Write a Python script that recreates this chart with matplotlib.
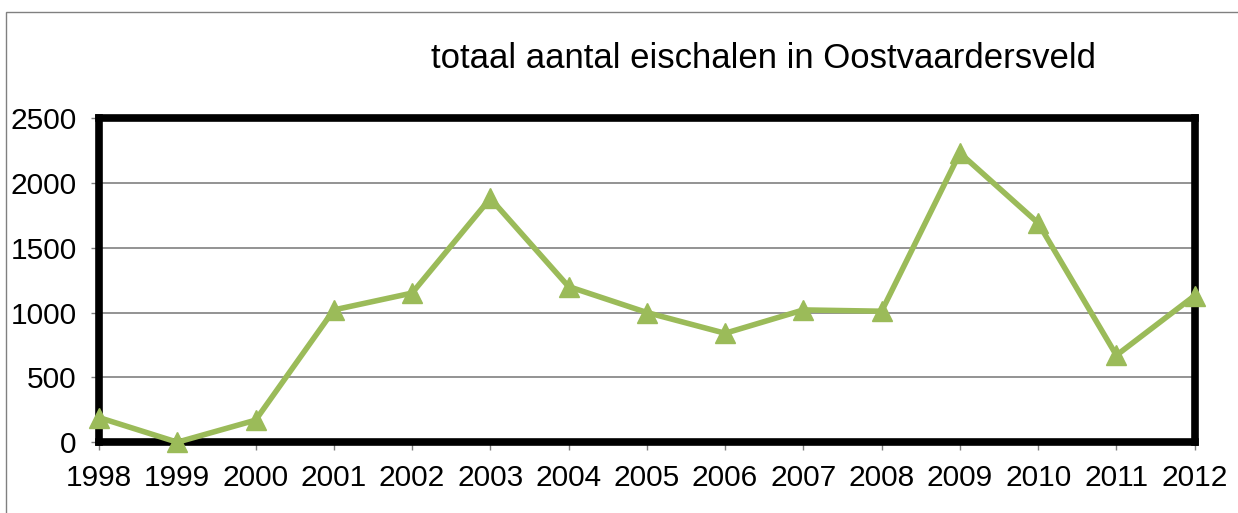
import numpy as np
import matplotlib.pyplot as plt
from matplotlib.patches import Rectangle

plt.rcParams['font.family'] = ['Liberation Sans', 'DejaVu Sans']

years = ["1998", "1999", "2000", "2001", "2002", "2003", "2004", "2005",
         "2006", "2007", "2008", "2009", "2010", "2011", "2012"]
eischalen = [190, 0, 170, 1020, 1150, 1880, 1200, 1000,
             840, 1020, 1010, 2230, 1690, 670, 1130]
yticks = [0, 500, 1000, 1500, 2000, 2500]

fig = plt.figure(figsize=(12.38, 5.13), dpi=100)
ax = fig.add_axes([0.080, 0.138, 0.885, 0.632])

# thin frame around the whole chart
fig.patches.append(Rectangle((6 / 1238, -0.05), 1.1, 1 - 12 / 513 + 0.05,
                             transform=fig.transFigure, fill=False,
                             edgecolor="#808080", linewidth=1))

x = np.arange(len(years))
ax.plot(x, eischalen, color="#9BBB59", linewidth=4, marker="^",
        markersize=15, clip_on=False, zorder=5)

ax.set_xlim(0, len(years) - 1)
ax.set_ylim(0, 2500)
ax.set_yticks(yticks)
ax.set_xticks(x)
ax.set_xticklabels(years)
ax.yaxis.grid(True, color="#808080", linewidth=1.2)
ax.set_axisbelow(True)

for s in ax.spines.values():
    s.set_linewidth(5.5)
    s.set_color("black")

ax.tick_params(axis="both", labelsize=21.5, colors="#808080",
               labelcolor="black", length=6, width=1)
ax.tick_params(axis="y", pad=10)
ax.tick_params(axis="x", pad=10)

fig.text(0.617, 0.885, "totaal aantal eischalen in Oostvaardersveld",
         ha="center", va="center", fontsize=25)

fig.savefig("out.png", dpi=100)
